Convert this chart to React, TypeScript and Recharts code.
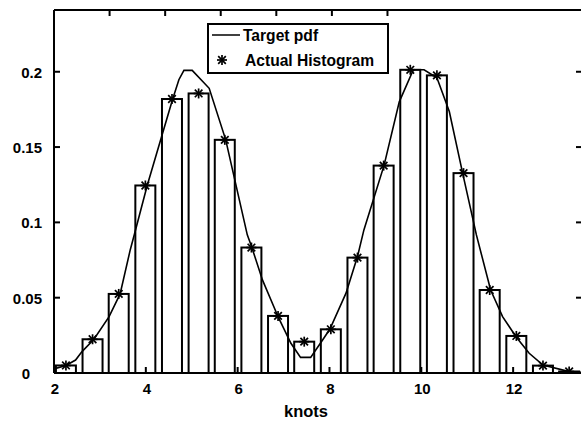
import {
  ComposedChart,
  Bar,
  Line,
  Scatter,
  XAxis,
  YAxis,
  Legend,
  Label,
} from "recharts";

// histogram bins: centre (knots) and relative frequency
const binCenters = [
  2.26, 2.84, 3.41, 3.99, 4.57, 5.15, 5.72, 6.3, 6.88, 7.45, 8.03, 8.61, 9.18,
  9.76, 10.34, 10.92, 11.49, 12.07, 12.65, 13.22,
];
const binFreq = [
  0.005, 0.0224, 0.0525, 0.1245, 0.1819, 0.1856, 0.1548, 0.0833, 0.0379,
  0.0208, 0.029, 0.0766, 0.1377, 0.2013, 0.1976, 0.1327, 0.0551, 0.0246,
  0.0049, 0.001,
];

// target pdf, sampled along the knots axis
const pdfKnots = [
  2.0, 2.26, 2.47, 2.61, 2.87, 3.2, 3.44, 3.66, 3.75, 4.03, 4.58, 4.72, 4.83,
  5.01, 5.38, 5.74, 6.21, 6.31, 6.54, 6.89, 7.16, 7.37, 7.59, 7.85, 8.01,
  8.36, 8.61, 8.75, 9.19, 9.52, 9.81, 9.84, 10.06, 10.34, 10.61, 10.9, 11.2,
  11.51, 11.77, 12.07, 12.35, 12.65, 13.22, 13.5,
];
const pdfValues = [
  0.0027, 0.005, 0.0086, 0.0142, 0.0224, 0.0374, 0.0525, 0.0817, 0.092,
  0.1245, 0.1814, 0.1947, 0.2009, 0.2009, 0.189, 0.1548, 0.0917, 0.0833,
  0.0618, 0.0367, 0.0197, 0.0104, 0.0104, 0.0219, 0.0292, 0.053, 0.0773,
  0.095, 0.138, 0.18, 0.2002, 0.2013, 0.2013, 0.196, 0.1736, 0.1327, 0.0917,
  0.0551, 0.0374, 0.0237, 0.0131, 0.0053, 0.0009, 0.0005,
];

const xTicks = [2, 4, 6, 8, 10, 12];
const yTicks = [0, 0.05, 0.1, 0.15, 0.2];

const histogram = binCenters.map((x, i) => ({ x, freq: binFreq[i] }));
const pdf = pdfKnots.map((x, i) => ({ x, pdf: pdfValues[i] }));

const FONT = '"Liberation Sans", Arial, Helvetica, sans-serif';
const TICK_FONT = 15;
const LEGEND_FONT = 15.6;
const BAR_WIDTH = 20;

const Star = ({ cx, cy }: any) => {
  const r = 5;
  const d = 3.8;
  return (
    <g stroke="#000" strokeWidth={1.7}>
      <line x1={cx} y1={cy - r} x2={cx} y2={cy + r} />
      <line x1={cx - r} y1={cy} x2={cx + r} y2={cy} />
      <line x1={cx - d} y1={cy - d} x2={cx + d} y2={cy + d} />
      <line x1={cx - d} y1={cy + d} x2={cx + d} y2={cy - d} />
    </g>
  );
};

// numeric axis gives bars no band, so the outline is drawn at a fixed width
const HistBar = ({ x, y, width, height }: any) => (
  <rect
    x={x + width / 2 - BAR_WIDTH / 2}
    y={y}
    width={BAR_WIDTH}
    height={height}
    fill="#fff"
    stroke="#000"
    strokeWidth={2}
  />
);

const LeftTick = ({ x, y, payload }: any) => (
  <g>
    <line x1={x} x2={x + 6} y1={y} y2={y} stroke="#000" strokeWidth={2} />
    <text
      x={payload.value === 0 ? 30 : x - 12}
      y={y + 6}
      textAnchor="end"
      fontFamily={FONT}
      fontWeight="bold"
      fontSize={TICK_FONT}
      fill="#000"
    >
      {String(payload.value)}
    </text>
  </g>
);

const BottomTick = ({ x, y, payload }: any) => (
  <g>
    <line x1={x} x2={x} y1={y} y2={y - 6} stroke="#000" strokeWidth={2} />
    <text
      x={x + 1}
      y={y + 21}
      textAnchor="middle"
      fontFamily={FONT}
      fontWeight="bold"
      fontSize={TICK_FONT}
      fill="#000"
    >
      {payload.value}
    </text>
  </g>
);

const TopTick = ({ x, y }: any) => (
  <line x1={x} x2={x} y1={y} y2={y + 6} stroke="#000" strokeWidth={2} />
);

const RightTick = ({ x, y }: any) => (
  <line x1={x - 6} x2={x} y1={y} y2={y} stroke="#000" strokeWidth={2} />
);

const KnotsLabel = ({ viewBox }: any) => (
  <text
    x={viewBox.x + viewBox.width / 2 - 12}
    y={viewBox.y + 44}
    textAnchor="middle"
    fontFamily={FONT}
    fontWeight="bold"
    fontSize={16.5}
    fill="#000"
  >
    knots
  </text>
);

const LegendBox = () => (
  <svg width={182} height={51} style={{ display: "block" }}>
    <rect x={1} y={1} width={180} height={49} fill="#fff" stroke="#000" strokeWidth={2} />
    <line x1={5} x2={33} y1={12} y2={12} stroke="#000" strokeWidth={1.5} />
    <text x={36} y={17.5} fontFamily={FONT} fontWeight="bold" fontSize={LEGEND_FONT} fill="#000">
      Target pdf
    </text>
    <Star cx={15} cy={37} />
    <text x={38} y={42.5} fontFamily={FONT} fontWeight="bold" fontSize={LEGEND_FONT} fill="#000">
      Actual Histogram
    </text>
  </svg>
);

export default function App() {
  return (
    <div
      style={{
        position: "fixed",
        left: 0,
        top: 0,
        width: 581,
        height: 421,
        overflow: "hidden",
        background: "#fff",
      }}
    >
      <ComposedChart
        width={600}
        height={421}
        data={histogram}
        margin={{ top: 9, right: 17, bottom: 18, left: 0 }}
      >
        <XAxis
          dataKey="x"
          type="number"
          domain={[2, 13.5]}
          allowDataOverflow
          ticks={xTicks}
          height={30}
          tickSize={0}
          tickMargin={0}
          tick={<BottomTick />}
          axisLine={{ stroke: "#000", strokeWidth: 2 }}
          tickLine={false}
        >
          <Label content={<KnotsLabel />} />
        </XAxis>
        <XAxis
          xAxisId="top"
          orientation="top"
          type="number"
          domain={[2, 13.5]}
          allowDataOverflow
          ticks={xTicks}
          height={1}
          tickSize={0}
          tickMargin={0}
          tick={<TopTick />}
          axisLine={{ stroke: "#000", strokeWidth: 2 }}
          tickLine={false}
        />
        <YAxis
          type="number"
          domain={[0, 0.241]}
          allowDataOverflow
          ticks={yTicks}
          width={54}
          tickSize={0}
          tickMargin={0}
          tick={<LeftTick />}
          axisLine={{ stroke: "#000", strokeWidth: 2 }}
          tickLine={false}
        />
        <YAxis
          yAxisId="right"
          orientation="right"
          type="number"
          domain={[0, 0.241]}
          allowDataOverflow
          ticks={yTicks}
          width={1}
          tickSize={0}
          tickMargin={0}
          tick={<RightTick />}
          axisLine={{ stroke: "#000", strokeWidth: 2 }}
          tickLine={false}
        />
        <Legend
          layout="vertical"
          align="center"
          verticalAlign="middle"
          content={<LegendBox />}
          wrapperStyle={{ left: 207, top: 23, width: 182, height: 51 }}
        />
        <Bar
          dataKey="freq"
          barSize={BAR_WIDTH}
          shape={<HistBar />}
          isAnimationActive={false}
        />
        <Line
          data={pdf}
          dataKey="pdf"
          type="linear"
          stroke="#000"
          strokeWidth={1.6}
          dot={false}
          activeDot={false}
          isAnimationActive={false}
        />
        <Scatter
          data={histogram}
          dataKey="freq"
          shape={<Star />}
          isAnimationActive={false}
        />
      </ComposedChart>
    </div>
  );
}
